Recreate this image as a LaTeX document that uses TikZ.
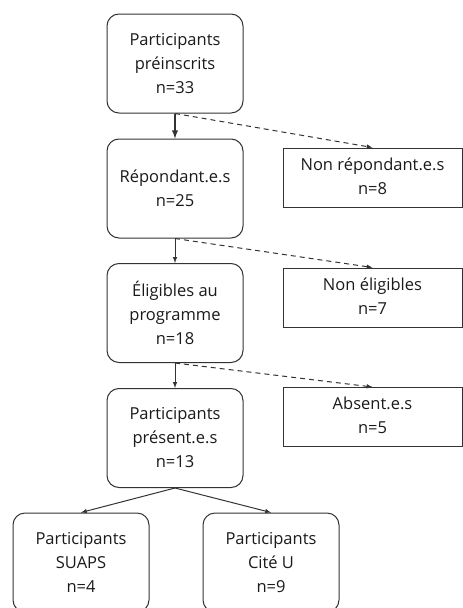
\documentclass[tikz,border=0pt]{standalone}
\usepackage{fontspec}
\setmainfont{Open Sans}
\usepackage{tikz}
\usetikzlibrary{arrows}
\usetikzlibrary{shapes}
\usetikzlibrary{positioning}
\definecolor{linegray}{HTML}{333333}
\definecolor{textgray}{HTML}{1A1A1A}
\tikzset{
  stage/.style={rectangle, rounded corners=12pt, draw=linegray, line width=1pt,
    minimum width=136pt, minimum height=99pt, align=center, text=textgray,
    font=\fontsize{16.5}{24}\selectfont},
  dropout/.style={rectangle, draw=linegray, line width=1pt,
    minimum width=179pt, minimum height=59pt, align=center, text=textgray,
    text depth=3pt, font=\fontsize{16.5}{24}\selectfont},
  flow/.style={-latex, draw=linegray, line width=1pt},
  loss/.style={-latex, dash pattern=on 5pt off 4pt, draw=linegray, line width=1pt}
}
\begin{document}
\begin{tikzpicture}[x=1pt, y=-1pt]
\useasboundingbox (0, 0) rectangle (463, 608);
\node [stage] (P) at (175, 63.5) {Participants\\préinscrits\\n=33};
\node [stage] (R) at (175, 188.5) {Répondant.e.s\\n=25};
\node [stage] (E) at (175, 313) {Éligibles au\\programme\\n=18};
\node [stage] (Pr) at (175, 438) {Participants\\présent.e.s\\n=13};
\node [dropout] (NR) at (372.5, 177.5) {Non répondant.e.s\\n=8};
\node [dropout] (NE) at (372.5, 297.5) {Non éligibles\\n=7};
\node [dropout] (A) at (372.5, 417) {Absent.e.s\\n=5};
\node [stage] (S) at (81, 562.5) {Participants\\SUAPS\\n=4};
\node [stage] (C) at (271, 562.5) {Participants\\Cité U\\n=9};
\draw [flow, line width=1.8pt] (P) to (R);
\draw [loss] (P.south) to (NR.north);
\draw [flow] (R) to (E);
\draw [loss] (R.south) to (NE.north);
\draw [flow] (E) to (Pr);
\draw [loss] (E.south) to (A.north);
\draw [flow] (Pr.south) to (S.north);
\draw [flow] (Pr.south) to (C.north);
\end{tikzpicture}
\end{document}
